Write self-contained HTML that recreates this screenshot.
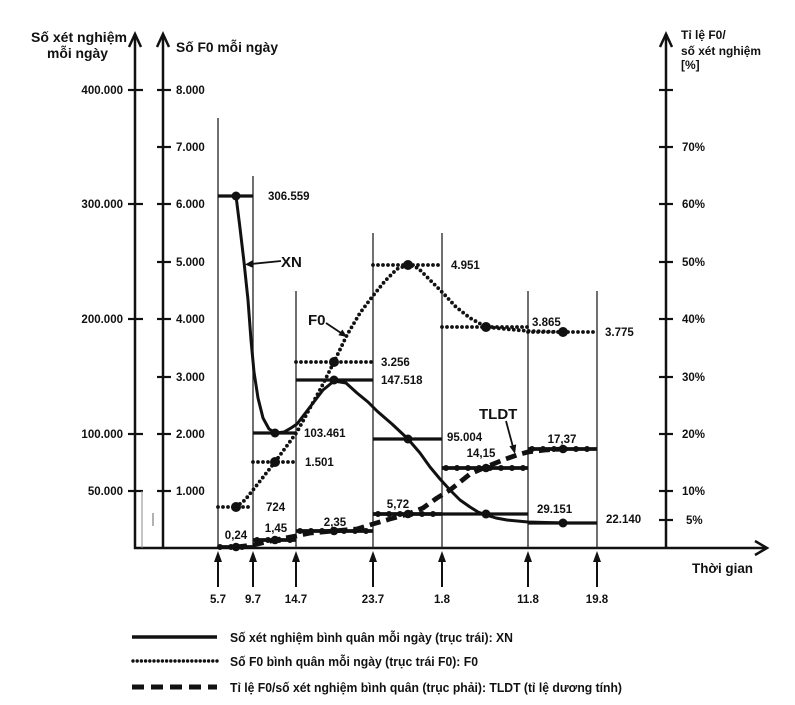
<!DOCTYPE html>
<html><head><meta charset="utf-8">
<style>
html,body{margin:0;padding:0;background:#fff;}
svg{display:block;}
text{font-family:"Liberation Sans",Arial,sans-serif;font-weight:bold;fill:#111;}
</style></head>
<body>
<svg width="795" height="705" viewBox="0 0 795 705" xmlns="http://www.w3.org/2000/svg">
<rect width="795" height="705" fill="#fff"/>

<!-- axes -->
<g stroke="#111" stroke-width="2.5" fill="none">
  <line x1="135" y1="35" x2="135" y2="549"/>
  <polyline points="129,47 135,34 141,47"/>
  <line x1="163" y1="35" x2="163" y2="549"/>
  <polyline points="157,47 163,34 169,47"/>
  <line x1="666" y1="35" x2="666" y2="549"/>
  <polyline points="660,47 666,34 672,47"/>
  <line x1="134" y1="548" x2="766" y2="548"/>
  <polyline points="755,541 767,548 755,555"/>
</g>
<!-- ticks -->
<g stroke="#111" stroke-width="2.2">
  <line x1="128" y1="90" x2="143" y2="90"/>
  <line x1="128" y1="204" x2="143" y2="204"/>
  <line x1="128" y1="319" x2="143" y2="319"/>
  <line x1="128" y1="434" x2="143" y2="434"/>
  <line x1="128" y1="491" x2="143" y2="491"/>
  <line x1="157" y1="90" x2="171" y2="90"/>
  <line x1="157" y1="147" x2="171" y2="147"/>
  <line x1="157" y1="204" x2="171" y2="204"/>
  <line x1="157" y1="262" x2="171" y2="262"/>
  <line x1="157" y1="319" x2="171" y2="319"/>
  <line x1="157" y1="377" x2="171" y2="377"/>
  <line x1="157" y1="434" x2="171" y2="434"/>
  <line x1="157" y1="491" x2="171" y2="491"/>
  <line x1="659" y1="90" x2="673" y2="90"/>
  <line x1="659" y1="147" x2="673" y2="147"/>
  <line x1="659" y1="204" x2="673" y2="204"/>
  <line x1="659" y1="262" x2="673" y2="262"/>
  <line x1="659" y1="319" x2="673" y2="319"/>
  <line x1="659" y1="377" x2="673" y2="377"/>
  <line x1="659" y1="434" x2="673" y2="434"/>
  <line x1="659" y1="491" x2="673" y2="491"/>
  <line x1="659" y1="520" x2="673" y2="520"/>
</g>
<!-- gray artifacts -->
<line x1="142" y1="491" x2="142" y2="548" stroke="#888" stroke-width="1"/>
<line x1="153" y1="513" x2="153" y2="526" stroke="#999" stroke-width="1.5"/>

<!-- tick labels -->
<g font-size="11.5" text-anchor="end">
  <text x="123" y="94">400.000</text>
  <text x="123" y="208">300.000</text>
  <text x="123" y="323">200.000</text>
  <text x="123" y="438">100.000</text>
  <text x="123" y="495">50.000</text>
</g>
<g font-size="11.5">
  <text x="176" y="94">8.000</text>
  <text x="176" y="151">7.000</text>
  <text x="176" y="208">6.000</text>
  <text x="176" y="266">5.000</text>
  <text x="176" y="323">4.000</text>
  <text x="176" y="381">3.000</text>
  <text x="176" y="438">2.000</text>
  <text x="176" y="495">1.000</text>
  <text x="682" y="151">70%</text>
  <text x="682" y="208">60%</text>
  <text x="682" y="266">50%</text>
  <text x="682" y="323">40%</text>
  <text x="682" y="381">30%</text>
  <text x="682" y="438">20%</text>
  <text x="682" y="495">10%</text>
  <text x="686" y="524">5%</text>
</g>

<!-- titles -->
<text x="31" y="42" font-size="14" textLength="96" lengthAdjust="spacingAndGlyphs">Số xét nghiệm</text>
<text x="47" y="58" font-size="14" textLength="61" lengthAdjust="spacingAndGlyphs">mỗi ngày</text>
<text x="176" y="52" font-size="14" textLength="102" lengthAdjust="spacingAndGlyphs">Số F0 mỗi ngày</text>
<text x="681" y="39" font-size="12">Tỉ lệ F0/</text>
<text x="681" y="55" font-size="12" textLength="80" lengthAdjust="spacingAndGlyphs">số xét nghiệm</text>
<text x="681" y="69" font-size="12">[%]</text>
<text x="692" y="573" font-size="13.5" textLength="61" lengthAdjust="spacingAndGlyphs">Thời gian</text>

<!-- period lines -->
<g stroke="#222" stroke-width="1.3">
  <line x1="218" y1="118" x2="218" y2="548"/>
  <line x1="253" y1="176" x2="253" y2="548"/>
  <line x1="296" y1="291" x2="296" y2="548"/>
  <line x1="373" y1="233" x2="373" y2="548"/>
  <line x1="442" y1="233" x2="442" y2="548"/>
  <line x1="528" y1="291" x2="528" y2="548"/>
  <line x1="597" y1="291" x2="597" y2="548"/>
</g>
<!-- bottom arrows -->
<g stroke="#111" stroke-width="2">
  <line x1="218" y1="559" x2="218" y2="587"/>
  <line x1="253" y1="559" x2="253" y2="587"/>
  <line x1="296" y1="559" x2="296" y2="587"/>
  <line x1="373" y1="559" x2="373" y2="587"/>
  <line x1="442" y1="559" x2="442" y2="587"/>
  <line x1="528" y1="559" x2="528" y2="587"/>
  <line x1="597" y1="559" x2="597" y2="587"/>
</g>
<g fill="#111">
  <polygon points="214,562 218,551 222,562"/>
  <polygon points="249,562 253,551 257,562"/>
  <polygon points="292,562 296,551 300,562"/>
  <polygon points="369,562 373,551 377,562"/>
  <polygon points="438,562 442,551 446,562"/>
  <polygon points="524,562 528,551 532,562"/>
  <polygon points="593,562 597,551 601,562"/>
</g>
<g font-size="11.5" text-anchor="middle">
  <text x="218" y="603">5.7</text>
  <text x="253" y="603">9.7</text>
  <text x="296" y="603">14.7</text>
  <text x="373" y="603">23.7</text>
  <text x="442" y="603">1.8</text>
  <text x="528" y="603">11.8</text>
  <text x="597" y="603">19.8</text>
</g>

<!-- XN series -->
<g stroke="#111" stroke-width="3.2" fill="none">
  <line x1="218" y1="196" x2="253" y2="196"/>
  <line x1="253" y1="433" x2="296" y2="433"/>
  <line x1="296" y1="380" x2="373" y2="380"/>
  <line x1="373" y1="439" x2="442" y2="439"/>
  <line x1="442" y1="514" x2="528" y2="514"/>
  <line x1="528" y1="523" x2="597" y2="523"/>
  <polyline stroke-linejoin="round" stroke-width="3" points="236,196 240,228 244,262 248,300 251,340 254,372 258,398 263,418 269,429 276,433 284,432 291,428 297,424 310,407 323,390 334,381 346,383 357,393 368,402 377,411 392,424 408,439 420,453 430,467 440,479 450,490 460,500 470,507 478,512 486,515 496,518 507,520 528,522 563,523"/>
</g>
<g fill="#111">
  <circle cx="236" cy="196" r="4.5"/>
  <circle cx="275" cy="433" r="4.5"/>
  <circle cx="334" cy="380" r="4.5"/>
  <circle cx="408" cy="439" r="4.5"/>
  <circle cx="486" cy="514" r="4.5"/>
  <circle cx="563" cy="523" r="4.5"/>
</g>

<!-- F0 series (dotted) -->
<g stroke="#111" stroke-width="3.8" fill="none" stroke-dasharray="0 5" stroke-linecap="round">
  <line x1="218" y1="507" x2="253" y2="507"/>
  <line x1="253" y1="462" x2="296" y2="462"/>
  <line x1="296" y1="362" x2="373" y2="362"/>
  <line x1="373" y1="265" x2="442" y2="265"/>
  <line x1="442" y1="327" x2="528" y2="327"/>
  <line x1="528" y1="332" x2="597" y2="332"/>
  <polyline stroke-linejoin="round" points="236,507 245,500 253,490 264,476 275,462 286,447 297,432 310,408 322,386 334,362 347,335 360,313 372,297 385,281 397,269 408,265 418,268 428,278 443,293 456,307 470,318 486,327 505,329 528,331 563,332"/>
</g>
<g fill="#111">
  <circle cx="236" cy="507" r="5"/>
  <circle cx="275" cy="462" r="5"/>
  <circle cx="334" cy="362" r="5"/>
  <circle cx="408" cy="265" r="5"/>
  <circle cx="486" cy="327" r="5"/>
  <circle cx="563" cy="332" r="5"/>
</g>

<!-- TLDT series -->
<g stroke="#111" fill="none">
  <g stroke-width="3.8">
    <line x1="218" y1="547" x2="253" y2="547"/>
    <line x1="253" y1="540" x2="296" y2="540"/>
    <line x1="296" y1="531" x2="373" y2="531"/>
    <line x1="373" y1="514" x2="442" y2="514"/>
    <line x1="442" y1="468" x2="528" y2="468"/>
    <line x1="528" y1="449" x2="597" y2="449"/>
  </g>
  <g stroke-width="6" stroke-dasharray="0 11" stroke-linecap="round">
    <line x1="220" y1="547" x2="253" y2="547"/>
    <line x1="257" y1="540" x2="296" y2="540"/>
    <line x1="300" y1="531" x2="373" y2="531"/>
    <line x1="378" y1="514" x2="442" y2="514"/>
    <line x1="446" y1="468" x2="528" y2="468"/>
    <line x1="532" y1="449" x2="597" y2="449"/>
  </g>
  <polyline stroke-width="4.8" stroke-dasharray="11 6" stroke-linejoin="round" points="236,547 253,545 275,540 296,536 310,533 334,531 357,529 373,524 390,519 408,514 423,508 437,498 450,490 470,474 486,467 503,460 517,455 528,452 545,450 563,449"/>
</g>
<g fill="#111">
  <circle cx="236" cy="547" r="4.3"/>
  <circle cx="275" cy="540" r="4.3"/>
  <circle cx="334" cy="531" r="4.3"/>
  <circle cx="408" cy="514" r="4.3"/>
  <circle cx="486" cy="468" r="4.3"/>
  <circle cx="563" cy="449" r="4.3"/>
</g>

<!-- value labels -->
<g font-size="11.5">
  <text x="268" y="200">306.559</text>
  <text x="304" y="437">103.461</text>
  <text x="381" y="384">147.518</text>
  <text x="447" y="441">95.004</text>
  <text x="537" y="513">29.151</text>
  <text x="606" y="523">22.140</text>
  <text x="266" y="511">724</text>
  <text x="305" y="466">1.501</text>
  <text x="381" y="366">3.256</text>
  <text x="451" y="269">4.951</text>
  <text x="532" y="326">3.865</text>
  <text x="605" y="336">3.775</text>
</g>
<g font-size="11.5" text-anchor="middle">
  <text x="236" y="539">0,24</text>
  <text x="276" y="532">1,45</text>
  <text x="335" y="526">2,35</text>
  <text x="398" y="508">5,72</text>
  <text x="481" y="457">14,15</text>
  <text x="562" y="443">17,37</text>
</g>

<!-- series labels + arrows -->
<text x="281" y="267" font-size="15">XN</text>
<text x="308" y="325" font-size="15">F0</text>
<text x="479" y="419" font-size="15">TLDT</text>
<g stroke="#111" stroke-width="1.8">
  <line x1="281" y1="261" x2="251" y2="264"/>
  <line x1="326" y1="323" x2="341" y2="333"/>
  <line x1="506" y1="421" x2="513" y2="447"/>
</g>
<g fill="#111">
  <polygon points="245,264.5 253,260 253.5,268"/>
  <polygon points="347,337 338.4,335.3 342.4,329.5"/>
  <polygon points="515,454 509.4,446.2 516.2,444.4"/>
</g>

<!-- legend -->
<line x1="132" y1="637" x2="217" y2="637" stroke="#111" stroke-width="3.5"/>
<line x1="133" y1="661" x2="217" y2="661" stroke="#111" stroke-width="3.4" stroke-dasharray="0 4.2" stroke-linecap="round"/>
<line x1="132" y1="687" x2="217" y2="687" stroke="#111" stroke-width="5" stroke-dasharray="12 7"/>
<g font-size="13">
  <text x="230" y="642" textLength="283" lengthAdjust="spacingAndGlyphs">Số xét nghiệm bình quân mỗi ngày (trục trái): XN</text>
  <text x="230" y="666" textLength="248" lengthAdjust="spacingAndGlyphs">Số F0 bình quân mỗi ngày (trục trái F0): F0</text>
  <text x="230" y="692" textLength="392" lengthAdjust="spacingAndGlyphs">Tỉ lệ F0/số xét nghiệm bình quân (trục phải): TLDT (tỉ lệ dương tính)</text>
</g>
</svg>
</body></html>
